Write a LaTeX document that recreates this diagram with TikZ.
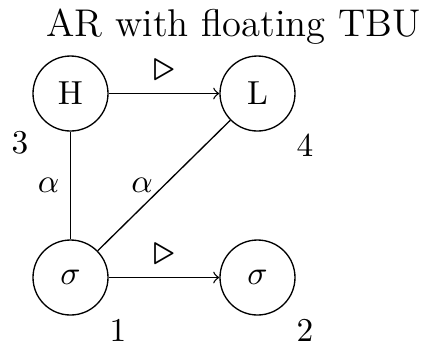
\documentclass[tikz,border=0pt]{standalone}
\usepackage{amssymb}
\begin{document}
\begin{tikzpicture}[x=0.3pt,y=-0.3pt,
  state/.style={draw,circle,minimum size=22.5pt,inner sep=0pt,line width=0.4pt,font=\fontsize{10}{12}\selectfont},
  tag/.style={font=\fontsize{10}{12}\selectfont,inner sep=0pt},
  edgelab/.style={midway,inner sep=0pt,font=\fontsize{10}{12}\selectfont},
  trilab/.style={edgelab,yshift=6.8pt,scale=1.3},
  link/.style={line width=0.4pt}]
  \useasboundingbox (0,0) rectangle (421,343);

  % title
  \node[anchor=base,inner sep=0pt,font=\fontsize{11.6}{14}\selectfont] (title) at (233.5,36) {AR with floating TBU};

  % states
  \node[state] (H)  at (70.5,93.5)  {H};
  \node[state] (L)  at (257.5,93.5) {L};
  \node[state] (s1) at (70.5,277.5) {$\sigma$};
  \node[state] (s2) at (257.5,277.5) {$\sigma$};

  % position numbers
  \node[tag] (n3) at (20,143) {3};
  \node[tag] (n4) at (305,145) {4};
  \node[tag] (n1) at (118,330) {1};
  \node[tag] (n2) at (305,330) {2};

  % connections
  \draw[link,->] (H) -- node[trilab] (t1) {$\triangleright$} (L);
  \draw[link,->] (s1) -- node[trilab] (t2) {$\triangleright$} (s2);
  \draw[link] (H) -- node[edgelab,xshift=-6.6pt] (a1) {$\alpha$} (s1);
  \draw[link] (s1) -- node[edgelab,xshift=-6.6pt] (a2) {$\alpha$} (L);
\end{tikzpicture}
\end{document}
